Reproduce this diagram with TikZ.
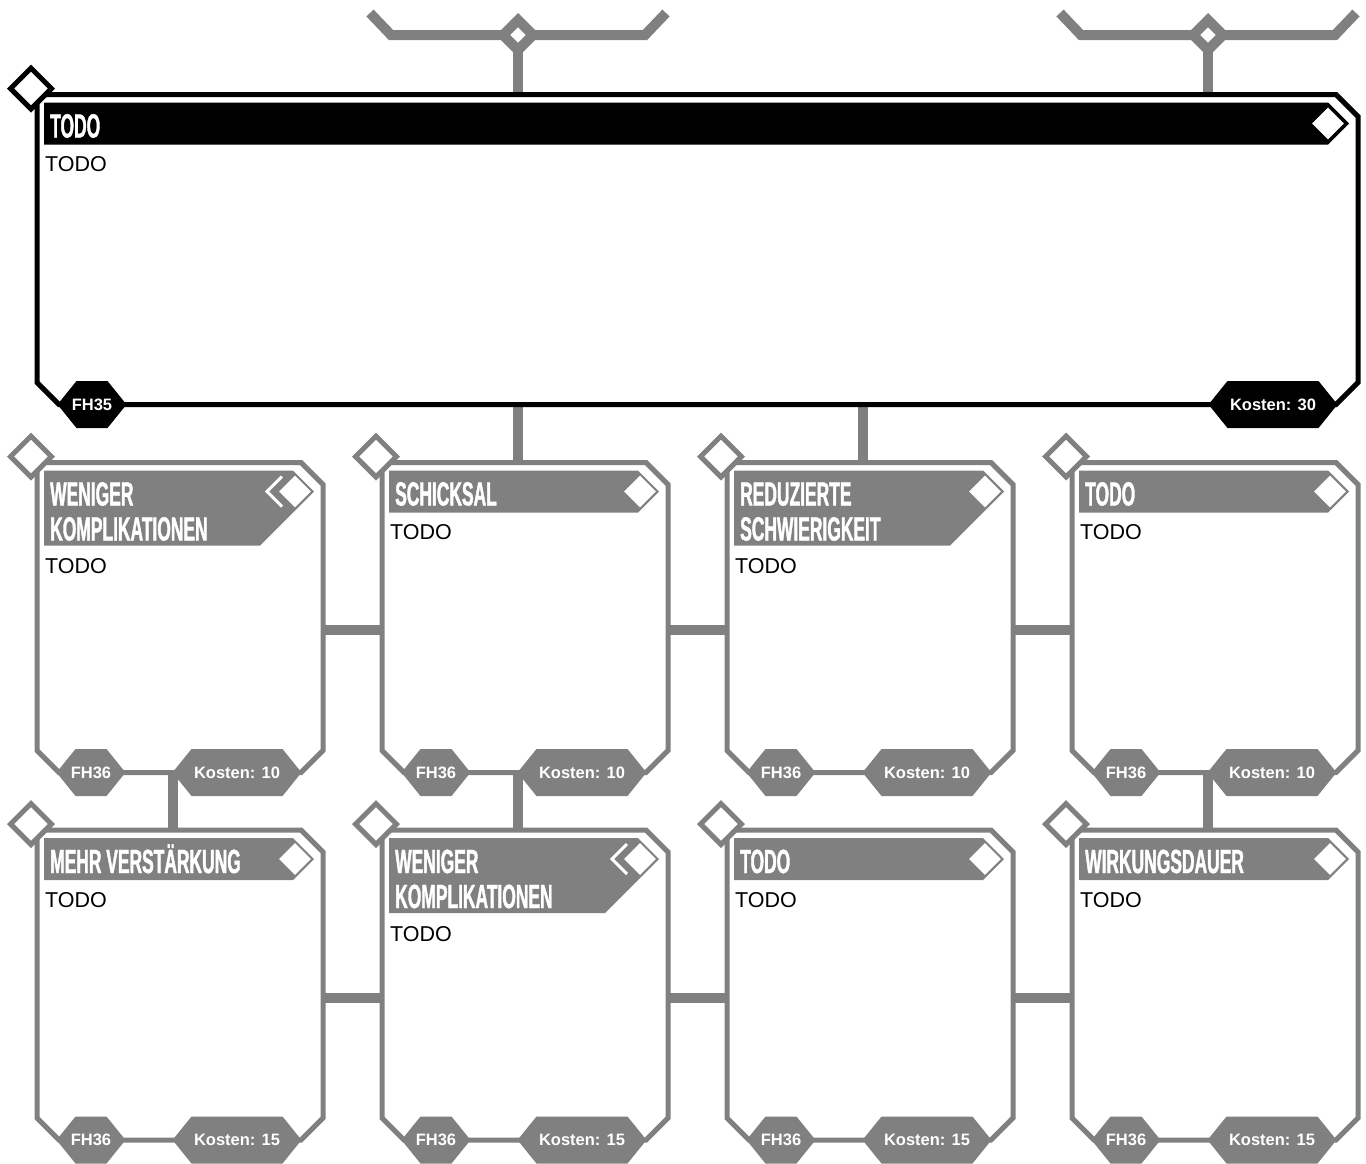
\documentclass[tikz,border=0pt]{standalone}
\usepackage{fontspec}
\setmainfont{Liberation Sans}
\newfontfamily\headfont[FakeStretch=0.52,BoldFeatures={FakeBold=1.2}]{Liberation Sans}
\usetikzlibrary{positioning,shapes.geometric}
\pgfdeclarelayer{bg}
\pgfsetlayers{bg,main}

\begin{document}
\begin{tikzpicture}[x=1pt,y=-1pt,
  link/.style={draw=gray,line width=10pt,line join=miter},
  card/.style={draw=gray,fill=white,line width=5pt,line join=miter},
  corner/.style={diamond,fill=white,line width=5pt,minimum size=43pt,inner sep=0pt},
  knot/.style={diamond,draw=gray,fill=white,line width=10pt,minimum size=34pt,inner sep=0pt},
  flag/.style={diamond,fill=white,minimum size=32pt,inner sep=0pt},
  headtxt/.style={text=white,font=\headfont\bfseries\fontsize{33.5}{35}\selectfont,inner sep=0pt,anchor=base west},
  bodytxt/.style={font=\fontsize{21.5}{24}\selectfont,inner sep=0pt,anchor=base west},
  badgetxt/.style={text=white,font=\bfseries\fontsize{16.5}{18}\selectfont,inner sep=0pt}]
  \useasboundingbox (0,0) rectangle (1366,1163);

  % Hauptkarte
  \draw[line width=5pt,fill=white,line join=miter] (37,94.5) -- (1336,94.5) -- (1358,116.5)
     -- (1358,382.5) -- (1336,404.5) -- (59,404.5) -- (37,382.5) -- cycle;
  \node[corner,draw=black] (main-d) at (31,88.5) {};
  \fill (44,102.5) -- (1328,102.5) -- (1349,123.5) -- (1328,144.5) -- (44,144.5) -- cycle;
  \node[flag] (main-f) at (1328,123.5) {};
  \node[headtxt] (main-t) at (50,137.5) {TODO};
  \node[bodytxt] (main-b) at (45,171.5) {TODO};
  \foreach \n/\x/\w/\txt in {fh/92/34.5/FH35, cost/1273/64.5/{Kosten: 30}} {
     \fill (\x-\w,404.5) -- (\x-\w+19,381) -- (\x+\w-19,381) -- (\x+\w,404.5)
        -- (\x+\w-19,428) -- (\x-\w+19,428) -- cycle;
     \node[badgetxt] (main-\n) at (\x,404.5) {\txt};
  }
  \coordinate (main-n1) at (518,94.5);
  \coordinate (main-n2) at (1208,94.5);
  \coordinate (main-s1) at (518,404.5);
  \coordinate (main-s2) at (863,404.5);

  % Gabeln oben
  \foreach \i/\x in {1/518,2/1208} {
     \node[knot] (knot\i) at (\x,35) {};
     \coordinate (knot\i-l) at (\x-148,13);
     \coordinate (knot\i-r) at (\x+148,13);
  }

  % Karten
  \foreach \c/\r/\ta/\tb/\nl/\v/\k in {0/0/WENIGER/KOMPLIKATIONEN/2/1/10, 1/0/SCHICKSAL//1/0/10,
      2/0/REDUZIERTE/SCHWIERIGKEIT/2/0/10, 3/0/TODO//1/0/10, 0/1/MEHR VERSTÄRKUNG//1/0/15,
      1/1/WENIGER/KOMPLIKATIONEN/2/1/15, 2/1/TODO//1/0/15, 3/1/WIRKUNGSDAUER//1/0/15} {
     \pgfmathsetmacro\L{37+345*\c}
     \pgfmathsetmacro\R{\L+286}
     \pgfmathsetmacro\T{462.5+367.5*\r}
     \pgfmathsetmacro\B{\T+310}
     \pgfmathsetmacro\h{42+33*(\nl-1)}
     \pgfmathsetmacro\yb{\T+77+34*(\nl-1)}
     \draw[card] (\L,\T) -- (\R-22,\T) -- (\R,\T+22) -- (\R,\B-22) -- (\R-22,\B)
        -- (\L+22,\B) -- (\L,\B-22) -- cycle;
     \node[corner,draw=gray] (card\c\r-d) at (\L-6,\T-6) {};
     \fill[gray] (\L+7,\T+8) -- (\R-30,\T+8) -- (\R-9,\T+29) -- (\R-9-\h+21,\T+8+\h)
        -- (\L+7,\T+8+\h) -- cycle;
     \node[flag] (card\c\r-f) at (\R-28,\T+29) {};
     \ifnum\v=1
       \draw[white,line width=3pt] (\R-41,\T+14) -- (\R-56,\T+29) -- (\R-41,\T+44);
     \fi
     \node[headtxt] (card\c\r-t) at (\L+13,\T+43) {\ta};
     \node[headtxt] (card\c\r-u) at (\L+13,\T+78) {\tb};
     \node[bodytxt] (card\c\r-b) at (\L+8,\yb) {TODO};
     \foreach \n/\x/\w/\txt in {fh/54/34.5/FH36, cost/200/64.5/{Kosten: \k}} {
        \fill[gray] (\L+\x-\w,\B) -- (\L+\x-\w+19,\B-23.5) -- (\L+\x+\w-19,\B-23.5)
           -- (\L+\x+\w,\B) -- (\L+\x+\w-19,\B+23.5) -- (\L+\x-\w+19,\B+23.5) -- cycle;
        \node[badgetxt] (card\c\r-\n) at (\L+\x,\B) {\txt};
     }
     \coordinate (card\c\r-n) at (\L+136,\T);
     \coordinate (card\c\r-s) at (\L+136,\B);
     \coordinate (card\c\r-w) at (\L,\T+167.5);
     \coordinate (card\c\r-e) at (\R,\T+167.5);
  }

  % Verbindungen
  \begin{pgfonlayer}{bg}
    \foreach \i in {1,2} {
       \draw[link] (knot\i-l) -- ++(21,22) -- ++(254,0) -- (knot\i-r);
       \draw[link] (knot\i.center) -- (main-n\i);
    }
    \draw[link] (main-s1) -- (card10-n);
    \draw[link] (main-s2) -- (card20-n);
    \foreach \c in {0,1,3} \draw[link] (card\c0-s) -- (card\c1-n);
    \foreach \r in {0,1} {
       \draw[link] (card0\r-e) -- (card1\r-w);
       \draw[link] (card1\r-e) -- (card2\r-w);
       \draw[link] (card2\r-e) -- (card3\r-w);
    }
  \end{pgfonlayer}
\end{tikzpicture}
\end{document}
